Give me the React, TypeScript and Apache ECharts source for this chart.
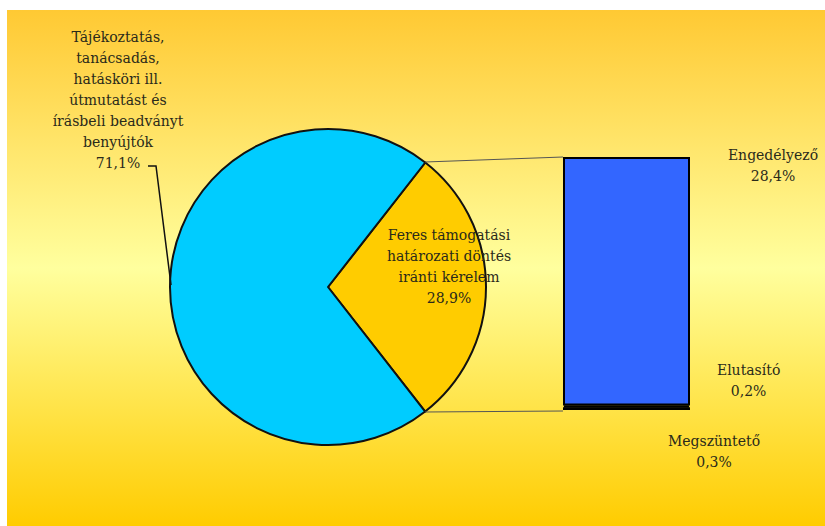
import React, { useEffect, useRef } from "react";
import * as echarts from "echarts";

const pieNames = [
  "Feres támogatási\nhatározati döntés\niránti kérelem",
  "Tájékoztatás,\ntanácsadás,\nhatásköri ill.\nútmutatást és\nírásbeli beadványt\nbenyújtók",
];
const pieValues = [28.9, 71.1];
const pieColors = ["#FFCC00", "#00CCFF"];

const barNames = ["Megszüntető", "Elutasító", "Engedélyező"];
const barValues = [0.3, 0.2, 28.4];
const barColors = ["#000000", "#000000", "#3366FF"];

const fmt = (v: number) => v.toFixed(1).replace(".", ",") + "%";

const FONT = "DejaVu Serif";
const TEXT = "#2a2a1a";

export default function App() {
  const ref = useRef<HTMLDivElement>(null);
  useEffect(() => {
    if (!ref.current) return;
    const chart = echarts.init(ref.current, null, { renderer: "svg" });

    const barLabelPos: Record<string, number[]> = {
      Engedélyező: [210, 8],
      Elutasító: [186, -25],
      Megszüntető: [151, 44],
    };

    const labelLayoutPos = [
      { x: 449, y: 266 },
      { x: 118, y: 100 },
    ];

    chart.setOption({
      animation: false,
      backgroundColor: "#ffffff",
      graphic: [
        {
          type: "rect",
          z: -10,
          shape: { x: 7, y: 10, width: 818, height: 516 },
          style: {
            fill: new echarts.graphic.LinearGradient(0, 0, 0, 1, [
              { offset: 0, color: "#FFC933" },
              { offset: 0.5, color: "#FFFF9E" },
              { offset: 1, color: "#FFCC00" },
            ]),
          },
        },
        {
          type: "line",
          z: 10,
          shape: { x1: 425, y1: 162, x2: 563, y2: 157 },
          style: { stroke: "#555", lineWidth: 1 },
        },
        {
          type: "line",
          z: 10,
          shape: { x1: 425, y1: 412, x2: 563, y2: 411 },
          style: { stroke: "#555", lineWidth: 1 },
        },
        {
          type: "polyline",
          z: 10,
          shape: { points: [[148, 166], [156, 166], [171, 285]] },
          style: { stroke: "#111", lineWidth: 1.5, fill: null },
        },
      ],
      grid: { left: 563, width: 127, top: 157, bottom: 116 },
      xAxis: { type: "category", data: ["x"], show: false },
      yAxis: { type: "value", min: 0, max: 28.9, show: false },
      series: [
        {
          type: "pie",
          center: [328, 287],
          radius: 158,
          startAngle: 52,
          clockwise: true,
          avoidLabelOverlap: false,
          itemStyle: { borderColor: "#111", borderWidth: 2 },
          label: {
            show: true,
            position: "inside",
            formatter: (p: any) => p.name + "\n" + fmt(p.value),
            fontFamily: FONT,
            fontSize: 14,
            lineHeight: 21,
            color: TEXT,
            align: "center",
          },
          labelLine: { show: false },
          labelLayout: (p: any) => ({
            x: labelLayoutPos[p.dataIndex].x,
            y: labelLayoutPos[p.dataIndex].y,
            align: "center",
            verticalAlign: "middle",
          }),
          emphasis: { disabled: true },
          data: pieNames.map((n, i) => ({
            name: n,
            value: pieValues[i],
            itemStyle: { color: pieColors[i] },
          })),
        },
        ...barNames.map((n, i) => ({
          type: "bar",
          name: n,
          stack: "s",
          barWidth: "100%",
          data: [barValues[i]],
          itemStyle: {
            color: barColors[i],
            borderColor: "#000",
            borderWidth: barColors[i] === "#000000" ? 2.5 : 2,
          },
          label: {
            show: true,
            position: barLabelPos[n],
            align: "center",
            verticalAlign: "middle",
            formatter: () => n + "\n" + fmt(barValues[i]),
            fontFamily: FONT,
            fontSize: 14,
            lineHeight: 21,
            color: TEXT,
          },
        })),
      ],
    });
    return () => chart.dispose();
  }, []);
  return (
    <div
      ref={ref}
      style={{ position: "fixed", left: 0, top: 0, width: 825, height: 526 }}
    />
  );
}
